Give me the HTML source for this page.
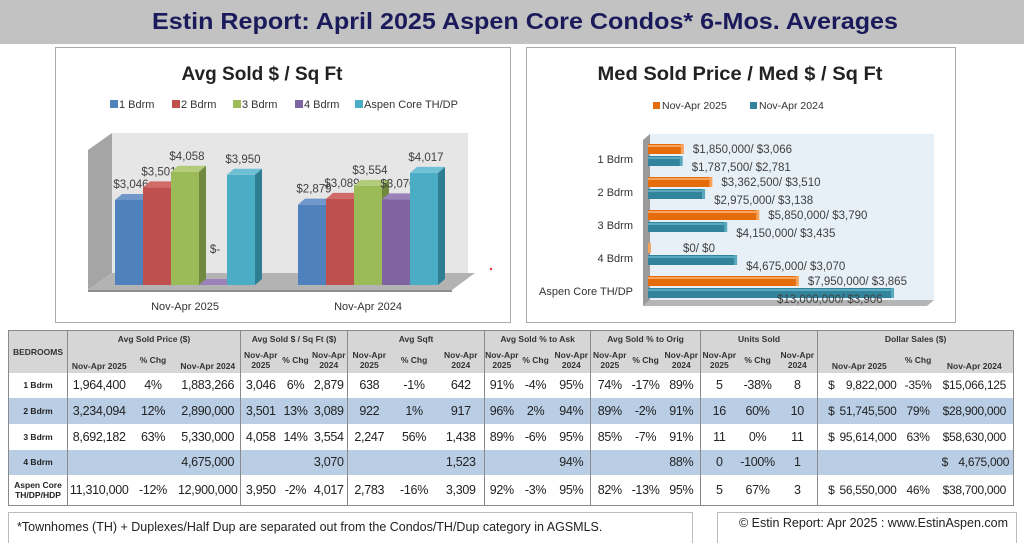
<!DOCTYPE html>
<html><head><meta charset="utf-8">
<style>
html,body{margin:0;padding:0;background:#fff;}
#root{position:relative;width:1024px;height:543px;overflow:hidden;font-family:"Liberation Sans",sans-serif;background:#fff;}
svg{position:absolute;left:0;top:0;}
table{position:absolute;left:8px;top:330px;width:1005px;border-collapse:collapse;table-layout:fixed;font-family:"Liberation Sans",sans-serif;color:#222;border:1.5px solid #8a8a8a;}
td,th{padding:0;text-align:center;white-space:nowrap;overflow:hidden;}
th{background:#d6d6d6;font-size:8.5px;font-weight:bold;line-height:10px;color:#333;}
td{font-size:12.5px;letter-spacing:-0.3px;}
td.d{font-size:12px;}
.g{border-right:1.5px solid #8a8a8a;}
tr.b td{background:#b9cde5;}
td.rl{font-size:8.5px;font-weight:bold;letter-spacing:0;line-height:10px;}
.ds{display:flex;justify-content:space-between;padding:0 4px 0 10px;}
.note{position:absolute;border:1px solid #bbb;font-size:12.5px;color:#222;background:#fff;}
</style></head>
<body>
<div id="root">
<svg id="svg" width="1024" height="543">
  <rect x="0" y="0" width="1024" height="44" fill="#c2c2c2"/>
  <text x="525" y="29" text-anchor="middle" font-family="Liberation Sans, sans-serif" font-weight="bold" font-size="23" fill="#1b1b5c" textLength="746" lengthAdjust="spacingAndGlyphs">Estin Report: April 2025 Aspen Core Condos* 6-Mos. Averages</text>
  <rect x="55.5" y="47.5" width="455" height="275" fill="#fff" stroke="#aaa"/>
  <rect x="526.5" y="47.5" width="429" height="275" fill="#fff" stroke="#aaa"/>
  <text x="262" y="80" text-anchor="middle" font-weight="bold" font-size="19" fill="#222" textLength="161" lengthAdjust="spacingAndGlyphs">Avg Sold $ / Sq Ft</text>
  <text x="740" y="80" text-anchor="middle" font-weight="bold" font-size="19" fill="#222" textLength="285" lengthAdjust="spacingAndGlyphs">Med Sold Price / Med $ / Sq Ft</text>
  <polygon points="88,150 112,133 112,273 88,290" fill="#a5a5a5"/>
  <rect x="112" y="133" width="356" height="140" fill="#e6e6e6"/>
  <polygon points="88,290 112,273 475,273 452,290" fill="#b3b3b3"/>
  <rect x="88" y="290" width="364" height="2" fill="#8f8f8f"/>
  <circle cx="491" cy="269" r="1.2" fill="#e33"/>
  <polygon points="643,140 650,134 650,300 643,306" fill="#9a9a9a"/>
  <rect x="650" y="134" width="284" height="166" fill="#e8f0f7"/>
  <polygon points="643,306 650,300 934,300 927,306" fill="#b5b5b5"/>
  <g id="left"></g>
  <g id="right"></g>
</svg>

<table>
<colgroup>
<col style="width:59px"><col style="width:63px"><col style="width:45px"><col style="width:65px">
<col style="width:40px"><col style="width:30px"><col style="width:37px">
<col style="width:43px"><col style="width:47px"><col style="width:47px">
<col style="width:34px"><col style="width:34px"><col style="width:38px">
<col style="width:38px"><col style="width:34px"><col style="width:38px">
<col style="width:37px"><col style="width:40px"><col style="width:40px">
<col style="width:83px"><col style="width:35px"><col style="width:78px">
</colgroup>
<tr style="height:17px">
<th rowspan="2" class="g">BEDROOMS</th>
<th colspan="3" class="g">Avg Sold Price ($)</th>
<th colspan="3" class="g">Avg Sold $ / Sq Ft ($)</th>
<th colspan="3" class="g">Avg Sqft</th>
<th colspan="3" class="g">Avg Sold % to Ask</th>
<th colspan="3" class="g">Avg Sold % to Orig</th>
<th colspan="3" class="g">Units Sold</th>
<th colspan="3">Dollar Sales ($)</th>
</tr>
<tr style="height:25px">
<th style="vertical-align:bottom;padding-bottom:2px">Nov-Apr 2025</th><th>% Chg</th><th class="g" style="vertical-align:bottom;padding-bottom:2px">Nov-Apr 2024</th>
<th>Nov-Apr<br>2025</th><th>% Chg</th><th class="g">Nov-Apr<br>2024</th>
<th>Nov-Apr<br>2025</th><th>% Chg</th><th class="g">Nov-Apr<br>2024</th>
<th>Nov-Apr<br>2025</th><th>% Chg</th><th class="g">Nov-Apr<br>2024</th>
<th>Nov-Apr<br>2025</th><th>% Chg</th><th class="g">Nov-Apr<br>2024</th>
<th>Nov-Apr<br>2025</th><th>% Chg</th><th class="g">Nov-Apr<br>2024</th>
<th style="vertical-align:bottom;padding-bottom:2px">Nov-Apr 2025</th><th>% Chg</th><th style="vertical-align:bottom;padding-bottom:2px">Nov-Apr 2024</th>
</tr>
<tr style="height:25px">
<td class="rl g">1 Bdrm</td><td>1,964,400</td><td>4%</td><td class="g">1,883,266</td>
<td>3,046</td><td>6%</td><td class="g">2,879</td><td>638</td><td>-1%</td><td class="g">642</td>
<td>91%</td><td>-4%</td><td class="g">95%</td><td>74%</td><td>-17%</td><td class="g">89%</td>
<td>5</td><td>-38%</td><td class="g">8</td><td class="d"><div class="ds"><span>$</span><span>9,822,000</span></div></td><td class="d">-35%</td><td class="d">$15,066,125</td>
</tr>
<tr style="height:26px" class="b">
<td class="rl g">2 Bdrm</td><td>3,234,094</td><td>12%</td><td class="g">2,890,000</td>
<td>3,501</td><td>13%</td><td class="g">3,089</td><td>922</td><td>1%</td><td class="g">917</td>
<td>96%</td><td>2%</td><td class="g">94%</td><td>89%</td><td>-2%</td><td class="g">91%</td>
<td>16</td><td>60%</td><td class="g">10</td><td class="d"><div class="ds"><span>$</span><span>51,745,500</span></div></td><td class="d">79%</td><td class="d">$28,900,000</td>
</tr>
<tr style="height:26px">
<td class="rl g">3 Bdrm</td><td>8,692,182</td><td>63%</td><td class="g">5,330,000</td>
<td>4,058</td><td>14%</td><td class="g">3,554</td><td>2,247</td><td>56%</td><td class="g">1,438</td>
<td>89%</td><td>-6%</td><td class="g">95%</td><td>85%</td><td>-7%</td><td class="g">91%</td>
<td>11</td><td>0%</td><td class="g">11</td><td class="d"><div class="ds"><span>$</span><span>95,614,000</span></div></td><td class="d">63%</td><td class="d">$58,630,000</td>
</tr>
<tr style="height:25px" class="b">
<td class="rl g">4 Bdrm</td><td></td><td></td><td class="g">4,675,000</td>
<td></td><td></td><td class="g">3,070</td><td></td><td></td><td class="g">1,523</td>
<td></td><td></td><td class="g">94%</td><td></td><td></td><td class="g">88%</td>
<td>0</td><td>-100%</td><td class="g">1</td><td class="d"></td><td class="d"></td><td class="d"><div class="ds" style="padding:0 4px 0 6px"><span>$</span><span>4,675,000</span></div></td>
</tr>
<tr style="height:31px">
<td class="rl g">Aspen Core<br>TH/DP/HDP</td><td>11,310,000</td><td>-12%</td><td class="g">12,900,000</td>
<td>3,950</td><td>-2%</td><td class="g">4,017</td><td>2,783</td><td>-16%</td><td class="g">3,309</td>
<td>92%</td><td>-3%</td><td class="g">95%</td><td>82%</td><td>-13%</td><td class="g">95%</td>
<td>5</td><td>67%</td><td class="g">3</td><td class="d"><div class="ds"><span>$</span><span>56,550,000</span></div></td><td class="d">46%</td><td class="d">$38,700,000</td>
</tr>
</table>

<div class="note" style="left:8px;top:512px;width:683px;height:32px;"><div style="position:absolute;left:8px;top:7px">*Townhomes (TH) + Duplexes/Half Dup are separated out from the Condos/TH/Dup category in AGSMLS.</div></div>
<div class="note" style="left:717px;top:512px;width:298px;height:32px;"><div style="position:absolute;right:8px;top:3px">© Estin Report: Apr 2025 : www.EstinAspen.com</div></div>
</div>

<script>
const leftCategories = ['Nov-Apr 2025', 'Nov-Apr 2024'];
const leftSeriesNames = ['1 Bdrm', '2 Bdrm', '3 Bdrm', '4 Bdrm', 'Aspen Core TH/DP'];
const psf2025 = [3046, 3501, 4058, 0, 3950];
const psf2024 = [2879, 3089, 3554, 3070, 4017];
const rightCategories = ['1 Bdrm', '2 Bdrm', '3 Bdrm', '4 Bdrm', 'Aspen Core TH/DP'];
const medPrice2025 = [1850000, 3362500, 5850000, 0, 7950000];
const medPsf2025 = [3066, 3510, 3790, 0, 3865];
const medPrice2024 = [1787500, 2975000, 4150000, 4675000, 13000000];
const medPsf2024 = [2781, 3138, 3435, 3070, 3906];
const rightSeriesNames = ['Nov-Apr 2025', 'Nov-Apr 2024'];

const NS = 'http://www.w3.org/2000/svg';
function mk(parent, tag, attrs, txt) {
  const e = document.createElementNS(NS, tag);
  for (const k in attrs) e.setAttribute(k, attrs[k]);
  if (txt !== undefined) e.textContent = txt;
  parent.appendChild(e);
  return e;
}
const fmt = v => v.toLocaleString('en-US');

const L = document.getElementById('left');
const colors = [
  ['#4f81bd', '#385d8a', '#6f97c9'],
  ['#c0504d', '#8c3836', '#d06b68'],
  ['#9bbb59', '#71893f', '#b2cc7a'],
  ['#8064a2', '#5c4876', '#9a82b8'],
  ['#4bacc6', '#2f7d92', '#70c0d5']
];
const baseY = 285, yScale = 0.0279;
const yL = v => baseY - v * yScale;
const groupX = [115, 298], barW = 28, dx = 7, dy = 6;
const leftData = [psf2025, psf2024];
leftSeriesNames.forEach((n, i) => {
  const lx = [110, 172, 233, 295, 355][i];
  const sq = mk(L, 'rect', {x: lx, y: 100, width: 8, height: 8, fill: colors[i][0]});
  
  
  const t = mk(L, 'text', {x: lx + 9, y: 108, 'font-size': 11, fill: '#333'}, n);
  
  
});
leftData.forEach((vals, g) => {
  vals.forEach((v, i) => {
    const x = groupX[g] + i * barW, top = yL(v), h = baseY - top;
    const side = mk(L, 'polygon', {points: `${x+barW},${top} ${x+barW+dx},${top-dy} ${x+barW+dx},${baseY-dy} ${x+barW},${baseY}`, fill: colors[i][1]});
    
    
    const front = mk(L, 'rect', {x: x, y: top, width: barW, height: h, fill: colors[i][0]});
    
    
    const topF = mk(L, 'polygon', {points: `${x},${top} ${x+dx},${top-dy} ${x+barW+dx},${top-dy} ${x+barW},${top}`, fill: colors[i][2]});
    
    
    const lbl = mk(L, 'text', {x: x + barW / 2 + 2, y: v === 0 ? top - 32 : top - 12, 'text-anchor': 'middle', 'font-size': 11.5, fill: '#404040'}, v === 0 ? '$-' : '$' + fmt(v));
    
    
  });
  const cl = mk(L, 'text', {x: groupX[g] + 2.5 * barW, y: 310, 'text-anchor': 'middle', 'font-size': 11, fill: '#333'}, leftCategories[g]);
  
  
});

const R = document.getElementById('right');
const rColors = [['#e46c0a', '#f7a35c'], ['#31849b', '#5aa9bf']];
const x0 = 648, xScale = 18.85 / 1e6;
const xR = v => x0 + v * xScale;
const catY = [159, 192, 225, 258, 291];
rightSeriesNames.forEach((n, i) => {
  const lx = [653, 750][i];
  const sq = mk(R, 'rect', {x: lx, y: 102, width: 7, height: 7, fill: rColors[i][0]});
  
  
  const t = mk(R, 'text', {x: lx + 9, y: 109, 'font-size': 10.5, fill: '#333'}, n);
  
  
});
rightCategories.forEach((c, k) => {
  const cy = catY[k];
  const cl = mk(R, 'text', {x: 633, y: cy + 4, 'text-anchor': 'end', 'font-size': 11, fill: '#333'}, c);
  
  
  const sets = [[medPrice2025, medPsf2025, cy - 15], [medPrice2024, medPsf2024, cy - 3]];
  sets.forEach((s, si) => {
    const v = s[0][k], end = xR(v), by = s[2];
    const w = Math.max(end - x0, 2);
    const bar = mk(R, 'rect', {x: x0, y: by, width: w, height: 10, fill: rColors[si][0]});
    
    
    const hl = mk(R, 'rect', {x: x0, y: by + 1, width: w, height: 2, fill: rColors[si][1]});
    
    
    const cap = mk(R, 'rect', {x: x0 + w - 2, y: by, width: 3, height: 10, fill: rColors[si][1]});
    
    
    const txt = '$' + fmt(v) + '/ $' + fmt(s[1][k]);
    let lx = v === 0 ? x0 + 35 : end + 10;
    if (lx + 118 > 934) lx = end - 116;
    const lbl = mk(R, 'text', {x: lx, y: si === 0 ? cy - 6 : cy + 12, 'font-size': 11.5, fill: '#404040'}, txt);
    
    
  });
});
</script>
</body></html>
